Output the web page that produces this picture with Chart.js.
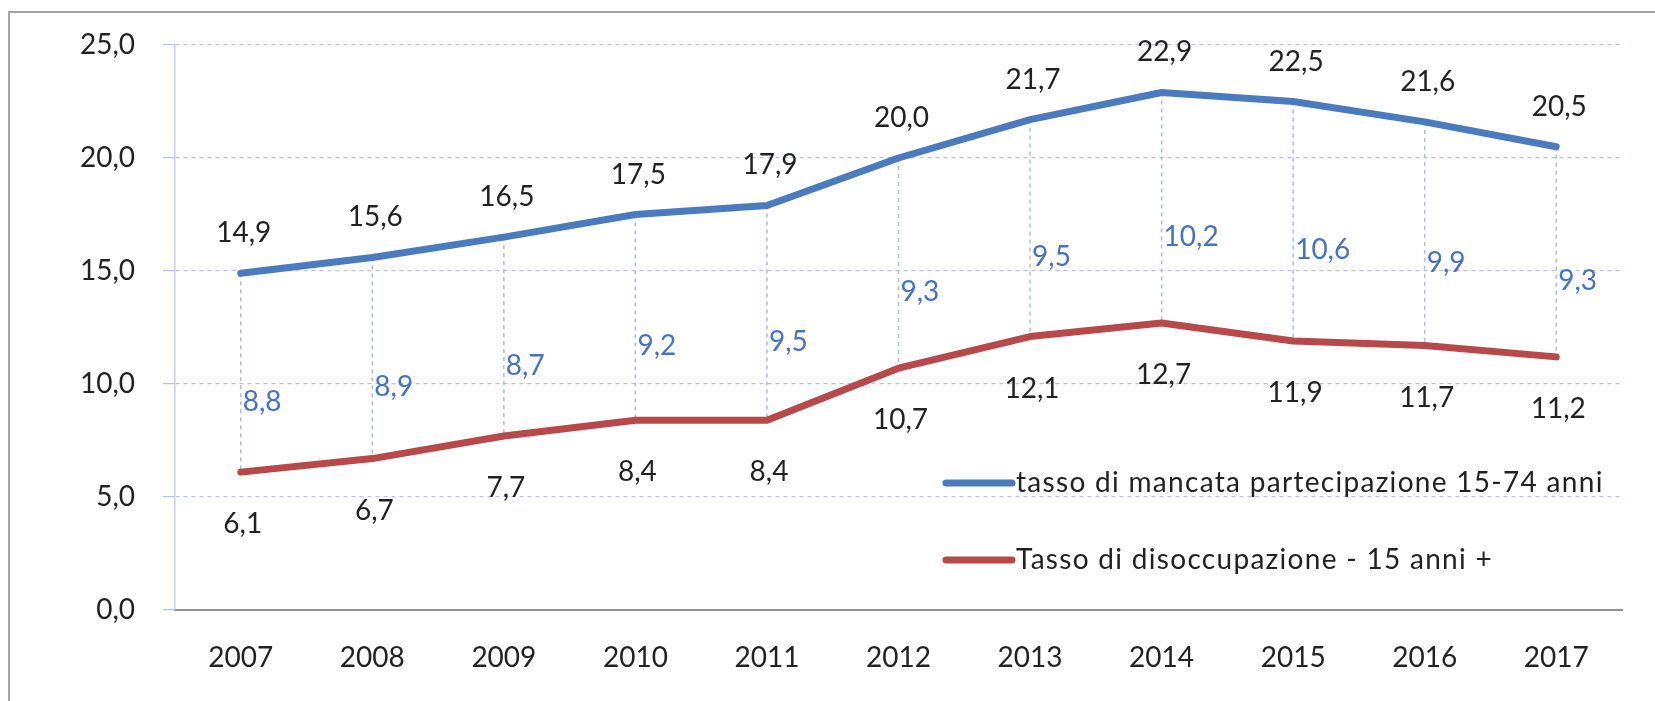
<!DOCTYPE html>
<html>
<head>
<meta charset="utf-8">
<script src="https://cdn.jsdelivr.net/npm/chart.js@4.4.1/dist/chart.umd.min.js"></script>
<style>
html,body{margin:0;padding:0;background:#fff;overflow:hidden;}
canvas{display:block;}
</style>
</head>
<body>
<canvas id="c" width="1655" height="701"></canvas>
<script>
const years = ['2007','2008','2009','2010','2011','2012','2013','2014','2015','2016','2017'];
const mancataPartecipazione = [14.9,15.6,16.5,17.5,17.9,20.0,21.7,22.9,22.5,21.6,20.5];
const disoccupazione = [6.1,6.7,7.7,8.4,8.4,10.7,12.1,12.7,11.9,11.7,11.2];
const gapLabels = [8.8,8.9,8.7,9.2,9.5,9.3,9.5,10.2,10.6,9.9,9.3];
const yTicks = [0,5,10,15,20,25];

const FONT = 'Lato, "Open Sans", sans-serif';
const FS = 28;
const BLUE = '#4a7bbf';
const RED = '#b8494a';
const TEXT = '#222222';
const LBLUE = '#4472c4';

const fmt = v => v.toFixed(1).replace('.', ',');

const custom = {
  id: 'custom',
  beforeDraw(chart) {
    const ctx = chart.ctx;
    ctx.save();
    ctx.fillStyle = '#fff';
    ctx.fillRect(0, 0, chart.width, chart.height);
    ctx.strokeStyle = '#a6a6a6';
    ctx.lineWidth = 2;
    ctx.strokeRect(9, 12, 3000, 3000);
    ctx.restore();
  },
  beforeDatasetsDraw(chart) {
    const ctx = chart.ctx, xs = chart.scales.x, ys = chart.scales.y;
    ctx.save();
    ctx.strokeStyle = '#a9bce4';
    ctx.lineWidth = 1.5;
    ctx.setLineDash([4, 4]);
    years.forEach((y, i) => {
      const x = xs.getPixelForValue(i);
      ctx.beginPath();
      ctx.moveTo(x, ys.getPixelForValue(mancataPartecipazione[i]));
      ctx.lineTo(x, ys.getPixelForValue(disoccupazione[i]));
      ctx.stroke();
    });
    ctx.restore();
  },
  afterDatasetsDraw(chart) {
    const ctx = chart.ctx, xs = chart.scales.x, ys = chart.scales.y;
    ctx.save();
    ctx.font = FS + 'px ' + FONT;
    ctx.textBaseline = 'middle';
    years.forEach((y, i) => {
      const x = xs.getPixelForValue(i);
      const yb = ys.getPixelForValue(mancataPartecipazione[i]);
      const yr = ys.getPixelForValue(disoccupazione[i]);
      ctx.fillStyle = TEXT;
      ctx.textAlign = 'center';
      ctx.fillText(fmt(mancataPartecipazione[i]), x + 3, yb - 40);
      ctx.fillText(fmt(disoccupazione[i]), x + 2, yr + 52);
      ctx.fillStyle = LBLUE;
      ctx.textAlign = 'left';
      ctx.fillText(fmt(gapLabels[i]), x + 2, (yb + yr) / 2 + 29);
    });
    // legend
    const entries = [
      {ds: chart.data.datasets[0], y: 483},
      {ds: chart.data.datasets[1], y: 560}
    ];
    ctx.letterSpacing = '1.3px';
    entries.forEach(e => {
      ctx.strokeStyle = e.ds.borderColor;
      ctx.lineWidth = 7;
      ctx.lineCap = 'round';
      ctx.beginPath();
      ctx.moveTo(946, e.y);
      ctx.lineTo(1012, e.y);
      ctx.stroke();
      ctx.fillStyle = TEXT;
      ctx.textAlign = 'left';
      ctx.fillText(e.ds.label, 1016, e.y);
    });
    ctx.restore();
  }
};

new Chart(document.getElementById('c'), {
  type: 'line',
  data: {
    labels: years,
    datasets: [
      {label: 'tasso di mancata partecipazione 15-74 anni', data: mancataPartecipazione, borderColor: BLUE, borderWidth: 7, pointRadius: 0, tension: 0, borderCapStyle: 'round', borderJoinStyle: 'round'},
      {label: 'Tasso di disoccupazione - 15 anni +', data: disoccupazione, borderColor: RED, borderWidth: 7, pointRadius: 0, tension: 0, borderCapStyle: 'round', borderJoinStyle: 'round'}
    ]
  },
  options: {
    responsive: false,
    animation: false,
    devicePixelRatio: 1,
    layout: {padding: {top: 45, right: 33, left: 0, bottom: 0}},
    plugins: {legend: {display: false}, tooltip: {enabled: false}},
    scales: {
      x: {
        offset: true,
        grid: {display: false, drawTicks: false},
        border: {display: true, color: '#8f8f8f', width: 2},
        ticks: {color: TEXT, font: {family: FONT, size: FS}, padding: 31},
        afterFit(s) { s.height = 91; }
      },
      y: {
        min: 0, max: 25,
        afterBuildTicks(s) { s.ticks = yTicks.map(v => ({value: v})); },
        grid: {color: '#b3c3e8', lineWidth: 1.2, tickLength: 12, drawTicks: true},
        border: {display: true, color: '#c3cfee', width: 1.5, dash: [4,4]},
        ticks: {color: TEXT, font: {family: FONT, size: FS}, padding: 28, callback: v => fmt(v)},
        afterFit(s) { s.width = 175; }
      }
    }
  },
  plugins: [custom]
});
const ch = Chart.getChart('c');
ch.options.scales.y.border.dash = [4,4];
ch.update('none');
</script>
</body>
</html>
